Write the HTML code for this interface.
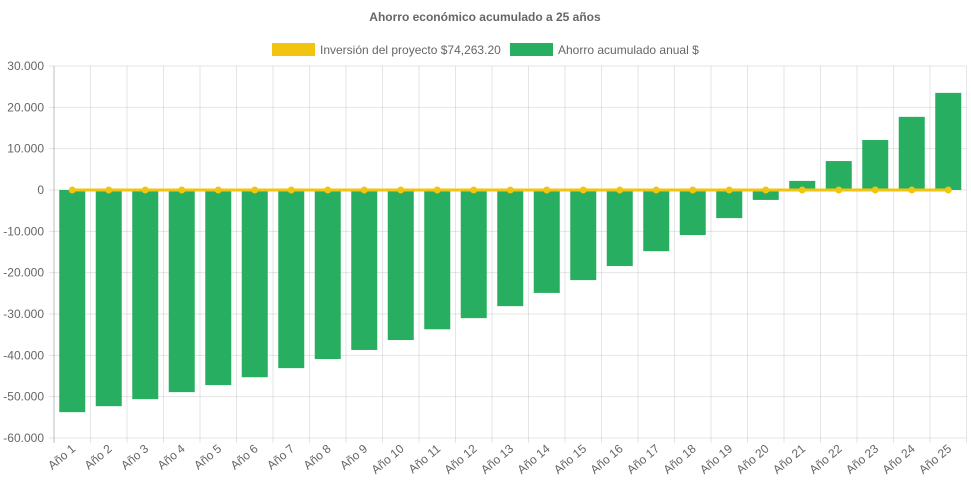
<!DOCTYPE html>
<html><head><meta charset="utf-8"><style>
body{margin:0;background:#fff;font-family:"Liberation Sans",sans-serif}
svg text{font-family:"Liberation Sans",sans-serif}
</style></head><body>
<svg id="c" width="971" height="485"></svg>
<script>
const categories=[];for(let i=1;i<=25;i++)categories.push('Año '+i);
const savings=[-53750,-52300,-50600,-48900,-47200,-45300,-43100,-40900,-38700,-36300,-33700,-31000,-28100,-24900,-21800,-18400,-14800,-10900,-6800,-2400,2200,7000,12100,17700,23500];
const investment=[0,0,0,0,0,0,0,0,0,0,0,0,0,0,0,0,0,0,0,0,0,0,0,0,0];
const yTicks=[30000,20000,10000,0,-10000,-20000,-30000,-40000,-50000,-60000];
const yLabels=['30.000','20.000','10.000','0','-10.000','-20.000','-30.000','-40.000','-50.000','-60.000'];
const NS='http://www.w3.org/2000/svg',svg=document.getElementById('c');
const L=54,R=966.5,T=66,B=438,ymax=30000,ymin=-60000;
const y=v=>T+(ymax-v)/(ymax-ymin)*(B-T);
const bw=(R-L)/categories.length;
const x=i=>L+bw*(i+0.5);
function mk(t,a,txt){const e=document.createElementNS(NS,t);for(const k in a)e.setAttribute(k,a[k]);if(txt!==undefined)e.textContent=txt;svg.appendChild(e);return e;}
let e=mk('text',{x:485,y:21,'text-anchor':'middle','font-size':12,'font-weight':'bold',fill:'#666'},'Ahorro económico acumulado a 25 años');


// legend
e=mk('rect',{x:272,y:43,width:43,height:13,fill:'#f1c40f'});


e=mk('text',{x:320,y:54,'font-size':12,fill:'#666'},'Inversión del proyecto $74,263.20');


e=mk('rect',{x:510,y:43,width:43,height:13,fill:'#27ae60'});


e=mk('text',{x:558,y:54,'font-size':12,fill:'#666'},'Ahorro acumulado anual $');


// grid
yTicks.forEach((v,i)=>{
 e=mk('line',{x1:L-5,x2:R,y1:y(v),y2:y(v),stroke:'rgba(0,0,0,0.1)'});
 
 
 e=mk('text',{x:L-10,y:y(v)+4,'text-anchor':'end','font-size':12,fill:'#666'},yLabels[i]);
 
 
});
for(let i=0;i<=categories.length;i++){
 const gx=L+bw*i;
 e=mk('line',{x1:gx,x2:gx,y1:T,y2:B+5,stroke:i==0?'rgba(0,0,0,0.25)':'rgba(0,0,0,0.1)'});
 
 
}
categories.forEach((c,i)=>{
 const v=savings[i],y0=y(0),y1=y(v);
 e=mk('rect',{x:x(i)-13,y:Math.min(y0,y1),width:26,height:Math.abs(y1-y0),fill:'#27ae60'});
 
 
 const tx=x(i)+4,ty=B+12;
 e=mk('text',{x:tx,y:ty,'text-anchor':'end','font-size':12,fill:'#666',transform:`rotate(-40 ${tx} ${ty})`},c);
 
 
});
e=mk('polyline',{points:investment.map((v,i)=>x(i)+','+y(v)).join(' '),fill:'none',stroke:'#f1c40f','stroke-width':3});


investment.forEach((v,i)=>{
 e=mk('circle',{cx:x(i),cy:y(v),r:3.5,fill:'#f1c40f'});
 
 
});
</script>
</body></html>
